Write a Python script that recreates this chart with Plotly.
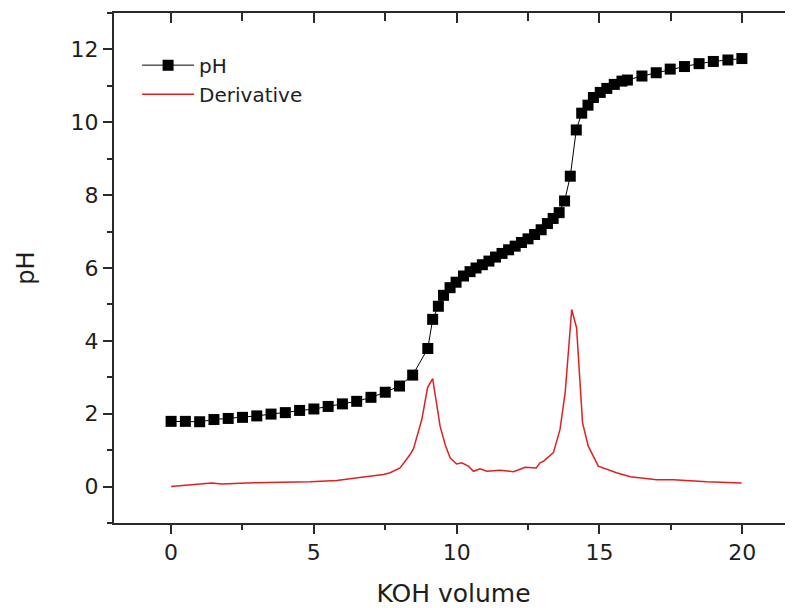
import plotly.graph_objects as go

# pH titration data (KOH volume, pH)
koh_volume = [0.0, 0.5, 1.0, 1.5, 2.0, 2.5, 3.0, 3.5, 4.0, 4.5, 5.0, 5.5, 6.0, 6.5, 7.0,
              7.5, 8.0, 8.46, 8.99, 9.16, 9.36, 9.54, 9.77, 9.98, 10.24, 10.47, 10.68,
              10.9, 11.13, 11.36, 11.59, 11.82, 12.05, 12.27, 12.5, 12.73, 12.96, 13.18,
              13.38, 13.59, 13.78, 13.98, 14.19, 14.38, 14.6, 14.79, 15.03, 15.26, 15.52,
              15.79, 15.98, 16.49, 16.99, 17.48, 17.98, 18.49, 18.99, 19.5, 19.99]
ph_values = [1.79, 1.79, 1.78, 1.84, 1.87, 1.90, 1.94, 1.99, 2.03, 2.09, 2.13, 2.20, 2.27,
             2.34, 2.45, 2.59, 2.76, 3.06, 3.79, 4.59, 4.95, 5.25, 5.46, 5.61, 5.78, 5.90,
             6.00, 6.09, 6.19, 6.30, 6.40, 6.50, 6.60, 6.70, 6.80, 6.92, 7.05, 7.22, 7.36,
             7.52, 7.84, 8.52, 9.79, 10.25, 10.47, 10.68, 10.82, 10.93, 11.04, 11.13,
             11.16, 11.27, 11.36, 11.46, 11.53, 11.61, 11.67, 11.71, 11.75]

# Derivative curve
deriv_x = [0.0, 1.42, 1.78, 2.65, 4.87, 5.8, 6.74, 7.44, 7.67, 8.02, 8.37, 8.49, 8.78,
           8.98, 9.16, 9.42, 9.6, 9.77, 10.0, 10.18, 10.41, 10.59, 10.82, 11.06, 11.52,
           11.99, 12.4, 12.79, 12.92, 13.05, 13.39, 13.62, 13.8, 14.03, 14.2, 14.41,
           14.61, 14.96, 15.6, 16.08, 17.01, 17.59, 18.76, 19.98]
deriv_y = [0.0, 0.10, 0.07, 0.10, 0.13, 0.17, 0.26, 0.33, 0.38, 0.51, 0.88, 1.04, 1.84,
           2.71, 2.96, 1.66, 1.15, 0.79, 0.62, 0.65, 0.56, 0.42, 0.49, 0.42, 0.45, 0.41,
           0.53, 0.51, 0.65, 0.70, 0.93, 1.57, 2.57, 4.86, 4.36, 1.75, 1.11, 0.56, 0.38,
           0.27, 0.19, 0.19, 0.13, 0.10]

x_ticks = [0, 5, 10, 15, 20]
y_ticks = [0, 2, 4, 6, 8, 10, 12]

FONT = "DejaVu Sans, Liberation Sans, Arial, sans-serif"
AX = "#2a2a2a"
TXT = "#1e1e1e"
XR = [-2, 21.78]
YR = [-1, 13]

fig = go.Figure()
fig.add_trace(go.Scatter(
    x=koh_volume, y=ph_values, name="pH", mode="lines+markers",
    line=dict(color="black", width=1),
    marker=dict(symbol="square", size=11, color="black"),
))
fig.add_trace(go.Scatter(
    x=deriv_x, y=deriv_y, name="Derivative", mode="lines",
    line=dict(color="#e02020", width=1.5),
))
# invisible trace to activate mirrored top/right axes
fig.add_trace(go.Scatter(x=[None], y=[None], xaxis="x2", yaxis="y2",
                         showlegend=False, hoverinfo="skip"))

tick_font = dict(family=FONT, size=22, color=TXT)

fig.update_layout(
    width=785, height=600,
    margin=dict(l=106, r=0, t=5, b=85, autoexpand=False),
    paper_bgcolor="white", plot_bgcolor="white",
    font=dict(family=FONT, color=TXT),
    showlegend=True,
    legend=dict(x=0.034, y=0.936, xanchor="left", yanchor="top",
                font=dict(family=FONT, size=20, color=TXT),
                bgcolor="rgba(0,0,0,0)", itemwidth=52, tracegroupgap=0),
    xaxis=dict(range=XR, tickvals=x_ticks, ticks="outside", ticklen=9, tickwidth=1.5,
               tickcolor=AX, showline=True, linecolor=AX, linewidth=2,
               showgrid=False, zeroline=False, tickfont=tick_font, automargin=False,
               minor=dict(dtick=2.5, tick0=0, ticks="outside", ticklen=5,
                          tickwidth=1.5, tickcolor=AX, showgrid=False),
               title=dict(text="KOH volume", font=dict(family=FONT, size=25, color=TXT),
                          standoff=28)),
    yaxis=dict(range=YR, tickvals=y_ticks, ticks="outside", ticklen=9, tickwidth=1.5,
               tickcolor=AX, showline=True, linecolor=AX, linewidth=2,
               showgrid=False, zeroline=False, tickfont=tick_font, automargin=False,
               minor=dict(dtick=1, tick0=0, ticks="outside", ticklen=5,
                          tickwidth=1.5, tickcolor=AX, showgrid=False),
               title=dict(text="pH", font=dict(family=FONT, size=24, color=TXT),
                          standoff=29)),
    xaxis2=dict(range=XR, overlaying="x", side="top", anchor="y2",
                tickvals=x_ticks, ticks="inside", ticklen=10, tickwidth=1.5,
                tickcolor=AX, showticklabels=False, showline=True, linecolor=AX,
                linewidth=2, showgrid=False, zeroline=False, automargin=False,
                minor=dict(dtick=2.5, tick0=0, ticks="inside", ticklen=8,
                           tickwidth=1.5, tickcolor=AX, showgrid=False)),
    yaxis2=dict(range=YR, overlaying="y", side="right", anchor="x2",
                tickvals=y_ticks, ticks="inside", ticklen=8, tickwidth=1.5,
                tickcolor=AX, showticklabels=False, showline=False,
                showgrid=False, zeroline=False, automargin=False,
                minor=dict(dtick=1, tick0=0, ticks="inside", ticklen=5,
                           tickwidth=1.5, tickcolor=AX, showgrid=False)),
)

fig.write_html("out.html")
